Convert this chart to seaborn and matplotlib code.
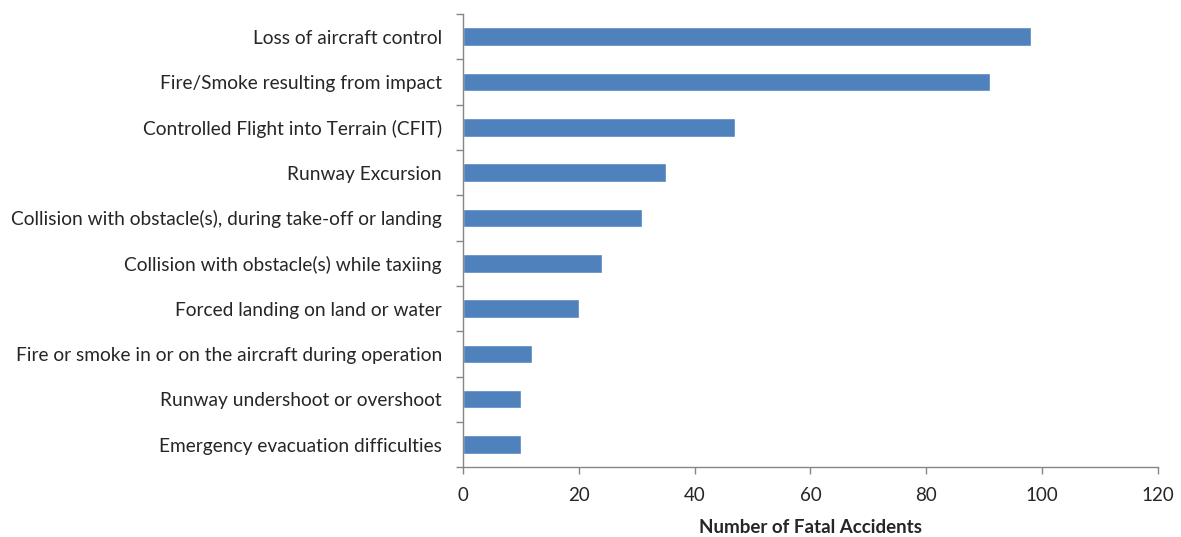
import matplotlib.pyplot as plt
import seaborn as sns
import pandas as pd
import numpy as np

# data
categories = [
    "Loss of aircraft control",
    "Fire/Smoke resulting from impact",
    "Controlled Flight into Terrain (CFIT)",
    "Runway Excursion",
    "Collision with obstacle(s), during take-off or landing",
    "Collision with obstacle(s) while taxiing",
    "Forced landing on land or water",
    "Fire or smoke in or on the aircraft during operation",
    "Runway undershoot or overshoot",
    "Emergency evacuation difficulties",
]
fatal_accidents = [98, 91, 47, 35, 31, 24, 20, 12, 10, 10]
x_ticks = [0, 20, 40, 60, 80, 100, 120]

df = pd.DataFrame({"category": categories, "count": fatal_accidents})

sns.set_style("white")
plt.rcParams['font.family'] = ['Lato', 'DejaVu Sans']

fig = plt.figure(figsize=(11.81, 5.37), dpi=100)
ax = fig.add_axes([0.392, 0.130, 0.5885, 0.844])

sns.barplot(data=df, y="category", x="count", orient="h",
            color="#4F81BD", saturation=1, width=0.41, ax=ax)

ax.set_xlim(0, 120)
ax.set_ylim(len(categories) - 0.5, -0.5)
ax.set_xticks(x_ticks)
ax.set_xticklabels([str(t) for t in x_ticks], fontsize=13.5)
ax.set_yticks(range(len(categories)))
ax.set_yticklabels(categories, fontsize=13.8)
ax.set_yticks(np.arange(-0.5, len(categories), 1), minor=True)
ax.tick_params(axis='y', which='both', left=True)
ax.tick_params(axis='y', which='major', length=0, pad=15)
ax.tick_params(axis='y', which='minor', length=5, color='#868686', width=1)
ax.tick_params(axis='x', which='major', bottom=True, length=5, color='#868686',
               width=1, pad=9)
ax.set_ylabel("")
ax.set_xlabel("Number of Fatal Accidents", fontsize=13.5, fontweight='bold', labelpad=11)

for side in ['top', 'right']:
    ax.spines[side].set_visible(False)
for side in ['left', 'bottom']:
    ax.spines[side].set_color('#868686')
    ax.spines[side].set_linewidth(1)

fig.savefig("out.png", dpi=100)
